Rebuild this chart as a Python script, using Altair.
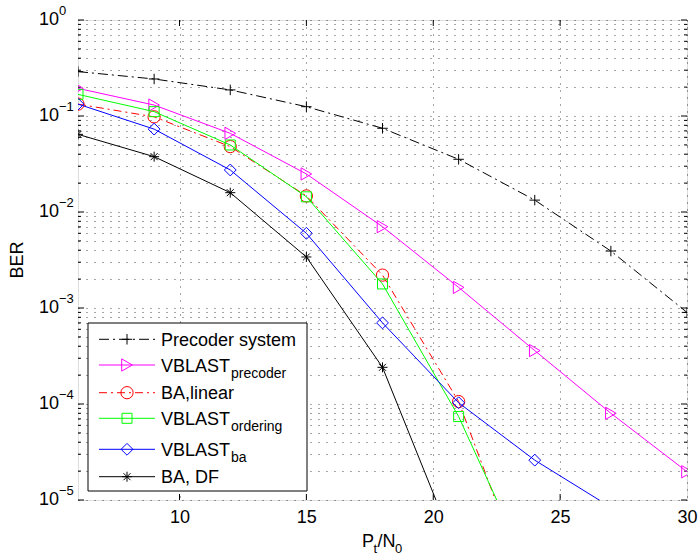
import altair as alt
import pandas as pd

# ---------------- data ----------------
x_full = [6, 9, 12, 15, 18, 21, 24, 27, 30]
precoder_system = [0.29, 0.243, 0.187, 0.125, 0.0745, 0.0354, 0.0133, 0.00392, 0.0009]
vblast_precoder = [0.194, 0.130, 0.066, 0.0249, 0.00703, 0.00164, 0.00036, 8.0e-5, 1.97e-5]

x_ba_linear = [6, 9, 12, 15, 18, 21, 24]
ba_linear = [0.133, 0.098, 0.048, 0.0147, 0.0022, 1.06e-4, 8e-7]

x_vblast_ordering = [6, 9, 12, 15, 18, 21, 24]
vblast_ordering = [0.168, 0.111, 0.0499, 0.0144, 0.00178, 7.4e-5, 1.36e-6]

x_vblast_ba = [6, 9, 12, 15, 18, 21, 24, 27]
vblast_ba = [0.133, 0.073, 0.0274, 0.0060, 7.0e-4, 1.03e-4, 2.6e-5, 8.4e-6]

x_ba_df = [6, 9, 12, 15, 18, 21]
ba_df = [0.0644, 0.0377, 0.0159, 0.0034, 2.41e-4, 2.6e-6]

x_ticks = [10, 15, 20, 25, 30]
y_decades = [1, 1e-1, 1e-2, 1e-3, 1e-4, 1e-5]
y_exponents = ["0", "\u22121", "\u22122", "\u22123", "\u22124", "\u22125"]
y_minor = [m * 10.0 ** e for e in range(-5, 0) for m in range(2, 10)]

# legend entries: (main text, subscript)
legend_main = ["Precoder system", "VBLAST", "BA,linear", "VBLAST", "VBLAST", "BA, DF"]
legend_sub = ["", "precoder", "", "ordering", "ba", ""]

# ---------------- styling ----------------
FONT = "Liberation Sans"
W, H = 609, 480
PLUS = "M-1,0L1,0M0,-1L0,1"
STAR = "M-1,0L1,0M0,-1L0,1M-0.7,-0.7L0.7,0.7M-0.7,0.7L0.7,-0.7"

series = [
    dict(x=x_full, y=precoder_system, color="#000000", dash=[10, 4, 2, 4], shape=PLUS, size=110),
    dict(x=x_full, y=vblast_precoder, color="#FF00FF", dash=None, shape="triangle-right", size=150),
    dict(x=x_ba_linear, y=ba_linear, color="#FF0000", dash=[8, 4, 2, 4], shape="circle", size=150),
    dict(x=x_vblast_ordering, y=vblast_ordering, color="#00FF00", dash=None, shape="square", size=100),
    dict(x=x_vblast_ba, y=vblast_ba, color="#0000FF", dash=None, shape="diamond", size=140),
    dict(x=x_ba_df, y=ba_df, color="#000000", dash=None, shape=STAR, size=100),
]

xscale = alt.Scale(domain=[6, 30], nice=False, zero=False)
yscale = alt.Scale(type="log", domain=[1e-5, 1], nice=False)

one = pd.DataFrame({"a": [0]})

layers = []

# base with axes + grid
grid_vals = sorted(set(y_decades + y_minor))
base_df = pd.DataFrame({"x": [6, 30], "y": [1e-5, 1]})
base = alt.Chart(base_df).mark_point(opacity=0).encode(
    x=alt.X("x:Q", scale=xscale,
            axis=alt.Axis(values=x_ticks, grid=True, gridDash=[1, 6], gridColor="#000000",
                          gridOpacity=0.7, ticks=False, domain=False, labelFontSize=18,
                          labelFont=FONT, labelColor="#000000", labelPadding=8,
                          labelFlush=False, title=None)),
    y=alt.Y("y:Q", scale=yscale,
            axis=alt.Axis(values=grid_vals, grid=True, gridDash=[1, 7], gridColor="#000000",
                          gridOpacity=0.7, ticks=False, domain=False, labels=False, title=None)),
)
layers.append(base)

# inward ticks
dec_df = pd.DataFrame({"y": y_decades})
min_df = pd.DataFrame({"y": y_minor})
xt_df = pd.DataFrame({"x": x_ticks[:-1]})
for df, length in [(dec_df, 6), (min_df, 3)]:
    layers.append(alt.Chart(df).mark_rule(color="#000000", strokeWidth=1).encode(
        y=alt.Y("y:Q", scale=yscale), x=alt.value(0), x2=alt.value(length)))
    layers.append(alt.Chart(df).mark_rule(color="#000000", strokeWidth=1).encode(
        y=alt.Y("y:Q", scale=yscale), x=alt.value(W - length), x2=alt.value(W)))
layers.append(alt.Chart(xt_df).mark_rule(color="#000000", strokeWidth=1).encode(
    x=alt.X("x:Q", scale=xscale), y=alt.value(H - 6), y2=alt.value(H)))
layers.append(alt.Chart(xt_df).mark_rule(color="#000000", strokeWidth=1).encode(
    x=alt.X("x:Q", scale=xscale), y=alt.value(0), y2=alt.value(6)))

# y tick labels: 10 with superscript exponent
lab_df = pd.DataFrame({"y": y_decades, "e": y_exponents})
layers.append(alt.Chart(lab_df).mark_text(align="left", baseline="middle", font=FONT,
                                          fontSize=18, color="#000000").encode(
    y=alt.Y("y:Q", scale=yscale), x=alt.value(-39), text=alt.value("10")))
layers.append(alt.Chart(lab_df).mark_text(align="left", baseline="middle", font=FONT,
                                          fontSize=13, color="#000000", dy=-9).encode(
    y=alt.Y("y:Q", scale=yscale), x=alt.value(-19), text="e:N"))

# data series
for s in series:
    df = pd.DataFrame({"x": s["x"], "y": s["y"]})
    lk = dict(color=s["color"], strokeWidth=1, clip=True)
    if s["dash"]:
        lk["strokeDash"] = s["dash"]
    layers.append(alt.Chart(df).mark_line(**lk).encode(
        x=alt.X("x:Q", scale=xscale), y=alt.Y("y:Q", scale=yscale)))
    layers.append(alt.Chart(df).mark_point(shape=s["shape"], size=s["size"], filled=False,
                                           color=s["color"], strokeWidth=1, opacity=1,
                                           clip=True).encode(
        x=alt.X("x:Q", scale=xscale), y=alt.Y("y:Q", scale=yscale)))

# axis titles
layers.append(alt.Chart(one).mark_text(angle=270, font=FONT, fontSize=18, color="#000000",
                                       baseline="middle", align="center").encode(
    x=alt.value(-60), y=alt.value(240), text=alt.value("BER")))
xt = [("P", 284, 527, 18), ("t", 295.5, 533, 13), ("/N", 299.5, 527, 18), ("0", 317, 533, 13)]
for txt, px, py, fs in xt:
    layers.append(alt.Chart(one).mark_text(font=FONT, fontSize=fs, color="#000000",
                                           align="left", baseline="alphabetic").encode(
        x=alt.value(px), y=alt.value(py), text=alt.value(txt)))

# legend
layers.append(alt.Chart(one).mark_rect(fill="#FFFFFF", stroke="#000000", strokeWidth=1).encode(
    x=alt.value(10), x2=alt.value(229), y=alt.value(303), y2=alt.value(471)))
rows_y = [319.3, 345, 372.7, 398.3, 429.3, 456.7]
for s, ry, main, sub in zip(series, rows_y, legend_main, legend_sub):
    rk = dict(color=s["color"], strokeWidth=1)
    if s["dash"]:
        rk["strokeDash"] = s["dash"]
    layers.append(alt.Chart(one).mark_rule(**rk).encode(
        x=alt.value(21), x2=alt.value(77), y=alt.value(ry)))
    layers.append(alt.Chart(one).mark_point(shape=s["shape"], size=s["size"], filled=False,
                                            color=s["color"], strokeWidth=1, opacity=1).encode(
        x=alt.value(49), y=alt.value(ry)))
    layers.append(alt.Chart(one).mark_text(font=FONT, fontSize=18, color="#000000",
                                           align="left", baseline="alphabetic").encode(
        x=alt.value(83), y=alt.value(ry + 6.5), text=alt.value(main)))
    if sub:
        layers.append(alt.Chart(one).mark_text(font=FONT, fontSize=14, color="#000000",
                                               align="left", baseline="alphabetic").encode(
            x=alt.value(153), y=alt.value(ry + 13), text=alt.value(sub)))

chart = alt.layer(*layers).properties(
    width=W, height=H,
    autosize=alt.AutoSizeParams(type="none"),
    padding={"left": 78, "top": 20, "right": 13, "bottom": 59},
).configure_view(stroke="#000000", strokeWidth=1).configure(background="#FFFFFF")

chart.save("out.html", embed_options={"renderer": "svg", "actions": False})
